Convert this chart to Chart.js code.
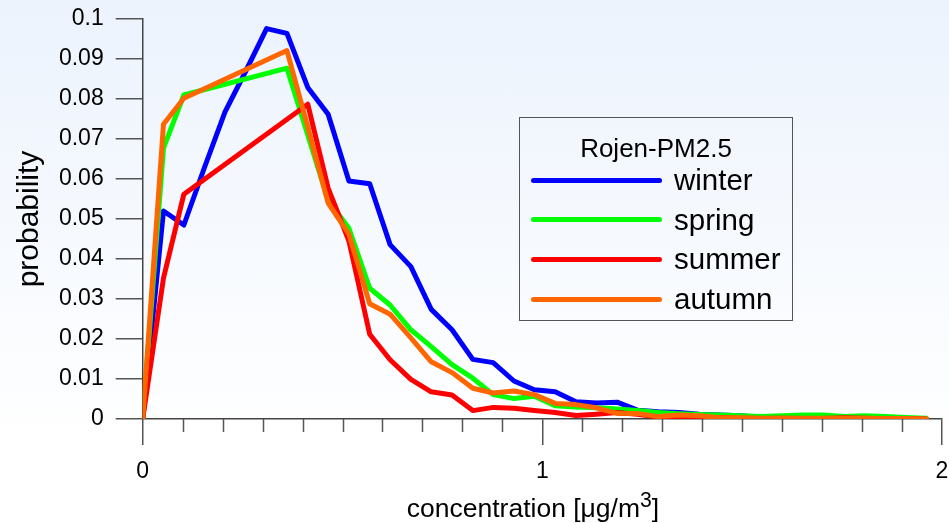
<!DOCTYPE html>
<html>
<head>
<meta charset="utf-8">
<script src="https://cdn.jsdelivr.net/npm/chart.js@4"></script>
<style>
html, body { margin: 0; padding: 0; }
body {
  width: 949px; height: 523px; overflow: hidden; position: relative;
  background: linear-gradient(to bottom, #ecf3fd 0%, #ffffff 85%);
  font-family: "Liberation Sans", Arial, sans-serif; color: #000;
}
#myChart { position: absolute; left: 0; top: 0; }
#legend {
  position: absolute; left: 519px; top: 117px; width: 272px; height: 202px;
  border: 1.5px solid #555;
}
#legend .title {
  position: absolute; left: 0; width: 100%; top: 15px; text-align: center;
  font-size: 26px; line-height: 30px;
}
#legend .row { position: absolute; left: 0; height: 40px; display: flex; align-items: center; }
#legend .swatch { margin-left: 11px; width: 131px; height: 5px; border-radius: 3px; }
#legend .label { margin-left: 12px; font-size: 29.5px; line-height: 40px; }
#xtitle {
  position: absolute; left: 533px; top: 493px; transform: translateX(-50%);
  font-size: 26.5px; line-height: 30px; white-space: nowrap;
}
#xtitle sup { font-size: 0.8em; vertical-align: 0.45em; line-height: 0; }
</style>
</head>
<body>
<canvas id="myChart" width="949" height="523"></canvas>
<div id="legend"><div class="title">Rojen-PM2.5</div></div>
<div id="xtitle">concentration [μg/m<sup>3</sup>]</div>
<script>
// bin positions (concentration)
const conc = [0, 0.052, 0.103, 0.155, 0.206, 0.258, 0.310, 0.361, 0.413, 0.464,
  0.516, 0.568, 0.619, 0.671, 0.722, 0.774, 0.826, 0.877, 0.929, 0.980,
  1.032, 1.084, 1.135, 1.187, 1.238, 1.290, 1.342, 1.393, 1.445, 1.496,
  1.548, 1.600, 1.651, 1.703, 1.754, 1.806, 1.858, 1.909, 1.961];

const winter = [0, 0.052, 0.0485, 0.063, 0.0768, 0.087, 0.0976, 0.0964, 0.0829, 0.0762,
  0.0595, 0.0588, 0.0436, 0.0381, 0.0274, 0.0223, 0.0149, 0.0141, 0.0095, 0.0073,
  0.0068, 0.0043, 0.0040, 0.0042, 0.0022, 0.0018, 0.0016, 0.0012, 0.0010, 0.0008,
  0.0004, 0.0002, 0.0002, 0.0002, 0.0001, 0.0002, 0.0001, 0.0001, 0];

const spring = [0, 0.0677, 0.081, null, null, null, null, 0.0877, 0.071, 0.0547,
  0.0477, 0.0327, 0.0285, 0.0223, 0.0181, 0.0136, 0.0102, 0.0061, 0.0051, 0.0057,
  0.0033, 0.0030, 0.0028, 0.0025, 0.0021, 0.0016, 0.0013, 0.0011, 0.0010, 0.0008,
  0.0006, 0.0008, 0.0010, 0.0010, 0.0006, 0.0008, 0.0006, 0.0004, 0.0002];

const summer = [0, 0.0352, 0.0562, null, null, null, null, null, 0.0787, 0.0577,
  0.0445, 0.0212, 0.0148, 0.0099, 0.0068, 0.0060, 0.0021, 0.0029, 0.0027, 0.0021,
  0.0016, 0.0009, 0.0012, 0.0016, 0.0012, 0.0005, 0.0004, 0.0003, 0.0004, 0.0002,
  0.0001, 0.0002, 0.0001, 0.0001, 0.0003, 0.0002, 0, 0.0001, 0];

const autumn = [0, 0.0737, 0.0802, null, null, null, null, 0.0921, 0.073, 0.0540,
  0.0462, 0.0288, 0.0262, 0.0203, 0.0143, 0.0116, 0.0077, 0.0065, 0.0070, 0.0061,
  0.0039, 0.0036, 0.0028, 0.0014, 0.0014, 0.0006, 0.0010, 0.0008, 0.0003, 0.0003,
  0.0002, 0.0002, 0.0002, 0.0002, 0.0002, 0.0002, 0.0001, 0.0001, 0];

const seriesNames = ["winter", "spring", "summer", "autumn"];
const seriesData = [winter, spring, summer, autumn];
const seriesColors = ["#0000ff", "#00ff00", "#ff0000", "#ff6600"];

const xTicks = [0, 1, 2];
const xMinor = [0.1, 0.2, 0.3, 0.4, 0.5, 0.6, 0.7, 0.8, 0.9,
  1.1, 1.2, 1.3, 1.4, 1.5, 1.6, 1.7, 1.8, 1.9];
const yTicks = [0, 0.01, 0.02, 0.03, 0.04, 0.05, 0.06, 0.07, 0.08, 0.09, 0.1];
const yLabels = ["0", "0.01", "0.02", "0.03", "0.04", "0.05", "0.06", "0.07", "0.08", "0.09", "0.1"];

const fam = "'Liberation Sans', Arial, sans-serif";

// legend box
const legend = document.getElementById("legend");
seriesNames.forEach((name, i) => {
  const row = document.createElement("div");
  row.className = "row";
  row.style.top = (42 + i * 39.7) + "px";
  row.innerHTML = '<div class="swatch" style="background:' + seriesColors[i] + '"></div><div class="label">' + name + '</div>';
  legend.appendChild(row);
});

// short ticks between the labelled ones
const minorTicks = {
  id: "minorTicks",
  afterDraw(chart) {
    const ctx = chart.ctx;
    const xs = chart.scales.x;
    ctx.save();
    ctx.strokeStyle = "#555";
    ctx.lineWidth = 1.5;
    ctx.beginPath();
    xMinor.forEach(v => {
      const px = Math.round(xs.getPixelForValue(v)) + 0.5;
      ctx.moveTo(px, xs.top);
      ctx.lineTo(px, xs.top + 13);
    });
    ctx.stroke();
    ctx.restore();
  }
};

const ctx = document.getElementById("myChart");
new Chart(ctx, {
  type: "line",
  data: {
    datasets: seriesNames.map((name, i) => ({
      label: name,
      data: conc.map((c, k) => ({ x: c, y: seriesData[i][k] })),
      borderColor: seriesColors[i],
      borderWidth: 5,
      pointRadius: 0,
      tension: 0,
      spanGaps: true,
      borderJoinStyle: "round",
      borderCapStyle: "round",
      order: 3 - i
    }))
  },
  options: {
    responsive: false,
    animation: false,
    devicePixelRatio: 1,
    layout: { padding: { top: 19, right: 7, left: 0, bottom: 0 }, autoPadding: false },
    plugins: { legend: { display: false }, tooltip: { enabled: false } },
    scales: {
      x: {
        type: "linear", min: 0, max: 2,
        afterBuildTicks: s => { s.ticks = xTicks.map(v => ({ value: v })); },
        afterFit: s => { s.height = 104; s.paddingLeft = 0; s.paddingRight = 0; },
        grid: { drawOnChartArea: false, drawTicks: true, tickLength: 26, color: "#555", lineWidth: 1.5 },
        border: { display: true, color: "#444", width: 1.5 },
        ticks: { padding: 13, color: "#000", maxRotation: 0, autoSkip: false,
          font: { size: 23, family: fam }, callback: v => String(v) }
      },
      y: {
        min: 0, max: 0.1,
        afterBuildTicks: s => { s.ticks = yTicks.map(v => ({ value: v })); },
        afterFit: s => { s.width = 142.7; s.paddingTop = 0; s.paddingBottom = 0; },
        grid: { drawOnChartArea: false, drawTicks: true, tickLength: 27, color: "#555", lineWidth: 1.5 },
        border: { display: true, color: "#444", width: 1.5 },
        ticks: { padding: 12, color: "#000", autoSkip: false,
          font: { size: 23, family: fam }, callback: (v, i) => yLabels[i] },
        title: { display: true, text: "probability", color: "#000",
          font: { size: 30, family: fam }, padding: { top: 12, bottom: 0 } }
      }
    }
  },
  plugins: [minorTicks]
});
</script>
</body>
</html>
